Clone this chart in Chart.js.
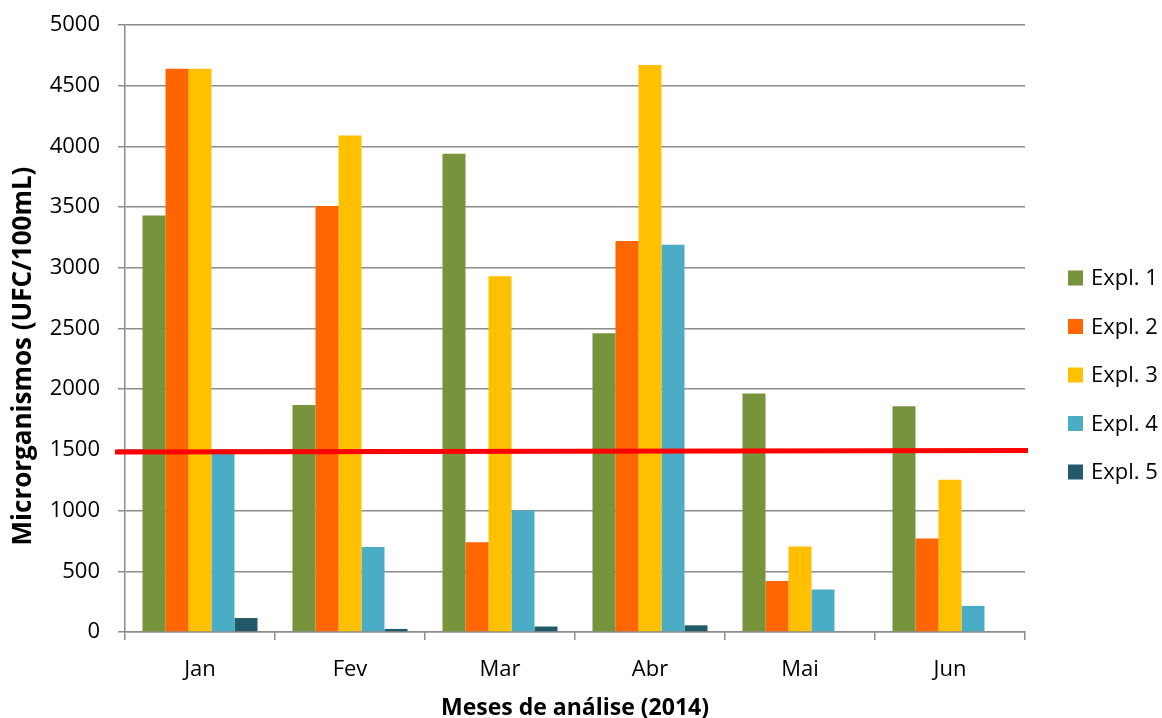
<!DOCTYPE html>
<html>
<head>
<meta charset="utf-8">
<script src="https://cdn.jsdelivr.net/npm/chart.js@4.4.1/dist/chart.umd.min.js"></script>
<style>
  html, body { margin: 0; padding: 0; background: #ffffff; }
  #wrap { width: 1162px; height: 718px; }
</style>
</head>
<body>
<div id="wrap"><canvas id="grafico" width="1162" height="718"></canvas></div>
<script>
// Meses analisados e contagens por explotação (UFC/100mL)
const meses = ['Jan', 'Fev', 'Mar', 'Abr', 'Mai', 'Jun'];
const expl1 = [3430, 1870, 3940, 2460, 1965, 1860];
const expl2 = [4640, 3510, 740, 3220, 420, 770];
const expl3 = [4640, 4090, 2930, 4670, 705, 1255];
const expl4 = [1480, 700, 1000, 3190, 350, 215];
const expl5 = [115, 25, 45, 55, 0, 0];
const nomesSeries = ['Expl. 1', 'Expl. 2', 'Expl. 3', 'Expl. 4', 'Expl. 5'];
const coresSeries = ['#77933C', '#FF6600', '#FFC000', '#4BACC6', '#215968'];
// Valor-limite de referência (início e fim da linha)
const limite = [1482, 1496];
const eixoY = { min: 0, max: 5000, passo: 500 };

const fonte = '"Open Sans", "Liberation Sans", sans-serif';
const cinza = '#8c8c8c';

const series = [expl1, expl2, expl3, expl4, expl5];
const datasets = series.map((valores, i) => ({
  label: nomesSeries[i],
  data: valores,
  backgroundColor: coresSeries[i],
  borderWidth: 0,
  barPercentage: 1.0,
  categoryPercentage: 115 / 150
}));

// Linha horizontal do valor-limite, desenhada sobre as barras
const linhaLimite = {
  id: 'linhaLimite',
  afterDatasetsDraw(chart) {
    const { ctx, chartArea, scales } = chart;
    const y0 = scales.y.getPixelForValue(limite[0]);
    const y1 = scales.y.getPixelForValue(limite[1]);
    ctx.save();
    ctx.strokeStyle = '#FF0000';
    ctx.lineWidth = 5;
    ctx.beginPath();
    ctx.moveTo(chartArea.left - 10, y0);
    ctx.lineTo(chartArea.right + 3, y1);
    ctx.stroke();
    ctx.restore();
  }
};

// Título do eixo vertical
const tituloY = {
  id: 'tituloY',
  afterDraw(chart) {
    const { ctx } = chart;
    ctx.save();
    ctx.translate(24, 356);
    ctx.rotate(-Math.PI / 2);
    ctx.font = 'bold 26px ' + fonte;
    ctx.fillStyle = '#000';
    ctx.textAlign = 'center';
    ctx.textBaseline = 'middle';
    ctx.fillText('Microrganismos (UFC/100mL)', 0, 0);
    ctx.restore();
  }
};

// Legenda à direita
const legenda = {
  id: 'legenda',
  afterDraw(chart) {
    const { ctx } = chart;
    ctx.save();
    ctx.font = '22px ' + fonte;
    ctx.textBaseline = 'middle';
    ctx.textAlign = 'left';
    chart.data.datasets.forEach((ds, i) => {
      const cy = 278 + i * 48.5;
      ctx.fillStyle = ds.backgroundColor;
      ctx.fillRect(1068, cy - 7.5, 15, 15);
      ctx.fillStyle = '#000';
      ctx.fillText(ds.label, 1091, cy + 1);
    });
    ctx.restore();
  }
};

new Chart(document.getElementById('grafico'), {
  type: 'bar',
  data: { labels: meses, datasets },
  plugins: [linhaLimite, tituloY, legenda],
  options: {
    responsive: false,
    animation: false,
    layout: { padding: { top: 25, right: 137, bottom: 0, left: 0 } },
    plugins: {
      legend: { display: false },
      tooltip: { enabled: false }
    },
    scales: {
      x: {
        afterFit(scale) {
          scale.height = 86;
          scale.paddingLeft = 0;
          scale.paddingRight = 0;
        },
        grid: {
          display: true,
          drawOnChartArea: false,
          drawTicks: true,
          tickLength: 8,
          offset: true,
          color: cinza,
          lineWidth: 1.5
        },
        border: { display: true, color: cinza, width: 1.5 },
        ticks: { font: { family: fonte, size: 22 }, color: '#000', padding: 17 },
        title: {
          display: true,
          text: 'Meses de análise (2014)',
          font: { family: fonte, size: 23, weight: 'bold' },
          color: '#000',
          padding: { top: 0, bottom: -4 }
        }
      },
      y: {
        min: eixoY.min,
        max: eixoY.max,
        afterFit(scale) {
          scale.width = 125;
          scale.paddingTop = 0;
          scale.paddingBottom = 0;
        },
        grid: {
          color: cinza,
          lineWidth: 1.5,
          drawTicks: true,
          tickLength: 7
        },
        border: { display: true, color: cinza, width: 1.5 },
        ticks: {
          stepSize: eixoY.passo,
          font: { family: fonte, size: 22 },
          color: '#000',
          padding: 18,
          callback: (v) => String(v)
        }
      }
    }
  }
});
</script>
</body>
</html>
